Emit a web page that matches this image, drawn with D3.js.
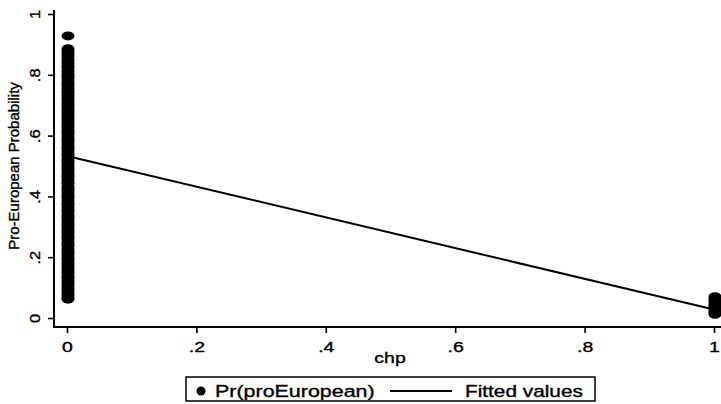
<!DOCTYPE html>
<html>
<head>
<meta charset="utf-8">
<script src="https://cdn.jsdelivr.net/npm/d3@7"></script>
<style>
  body { margin: 0; background: #fff; }
  svg { display: block; background: #fff; }
  text { font-family: "Liberation Sans", Arial, Helvetica, sans-serif; fill: #000; stroke: #000; stroke-width: 0.35px; }
</style>
</head>
<body>
<svg id="chart" width="721" height="404"></svg>
<script>
// Axis ticks and labels (Stata-style leading-dot decimals)
const xTicks = [0, 0.2, 0.4, 0.6, 0.8, 1];
const xTickLabels = ["0", ".2", ".4", ".6", ".8", "1"];
const yTicks = [0, 0.2, 0.4, 0.6, 0.8, 1];
const yTickLabels = ["0", ".2", ".4", ".6", ".8", "1"];

const xTitle = "chp";
const yTitle = "Pro-European Probability";
const legendLabels = ["Pr(proEuropean)", "Fitted values"];

// Predicted pro-European probability for respondents with chp = 0
const probChp0 = [
  0.062, 0.066, 0.074, 0.081, 0.090, 0.097, 0.106, 0.113, 0.121, 0.131,
  0.136, 0.145, 0.151, 0.159, 0.168, 0.174, 0.182, 0.191, 0.196, 0.204,
  0.213, 0.219, 0.227, 0.237, 0.242, 0.250, 0.260, 0.265, 0.273, 0.282,
  0.288, 0.296, 0.305, 0.311, 0.319, 0.328, 0.334, 0.342, 0.351, 0.357,
  0.365, 0.374, 0.380, 0.388, 0.397, 0.403, 0.411, 0.420, 0.426, 0.434,
  0.443, 0.449, 0.457, 0.466, 0.472, 0.480, 0.489, 0.495, 0.503, 0.512,
  0.518, 0.526, 0.535, 0.541, 0.549, 0.558, 0.564, 0.572, 0.581, 0.587,
  0.595, 0.604, 0.610, 0.618, 0.627, 0.633, 0.641, 0.650, 0.656, 0.664,
  0.673, 0.679, 0.687, 0.696, 0.702, 0.710, 0.719, 0.725, 0.733, 0.742,
  0.748, 0.756, 0.765, 0.771, 0.779, 0.788, 0.794, 0.802, 0.811, 0.819,
  0.828, 0.837, 0.845, 0.852, 0.862, 0.869, 0.877, 0.886, 0.928
];
// Predicted probability for respondents with chp = 1
const probChp1 = [0.012, 0.018, 0.022, 0.027, 0.031, 0.036, 0.041, 0.047, 0.055, 0.062, 0.070];

// Linear fit of probability on chp
const fittedChp = [0, 1];
const fittedProb = [0.533, 0.028];

const svg = d3.select("#chart");

const x = d3.scaleLinear().domain([0, 1]).range([67, 714]);
const y = d3.scaleLinear().domain([0, 1]).range([318, 14]);

const plotLeft = 54, plotRight = 721, plotTop = 10, plotBottom = 327;

// Scatter markers
const points = probChp0.map(p => ({ chp: 0, p }))
  .concat(probChp1.map(p => ({ chp: 1, p })));

svg.append("g").selectAll("ellipse")
  .data(points)
  .join("ellipse")
  .attr("cx", d => x(d.chp) + 1)
  .attr("cy", d => y(d.p))
  .attr("rx", 6.5)
  .attr("ry", 4.5)
  .attr("fill", "#000");

// Fitted line
const line = d3.line().x(d => x(d[0])).y(d => y(d[1]));
svg.append("path")
  .datum(fittedChp.map((c, i) => [c, fittedProb[i]]))
  .attr("d", line)
  .attr("fill", "none")
  .attr("stroke", "#000")
  .attr("stroke-width", 2);

// X axis
const xAxis = svg.append("g")
  .attr("transform", `translate(0,${plotBottom})`)
  .call(d3.axisBottom(x).tickValues(xTicks)
    .tickFormat((d, i) => xTickLabels[i]).tickSize(6).tickSizeOuter(0));
xAxis.select(".domain").remove();
xAxis.selectAll(".tick line").attr("stroke", "#000").attr("stroke-width", 1.6);
xAxis.selectAll(".tick text")
  .attr("y", 25).attr("dy", 0)
  .attr("font-size", 15)
  .attr("transform", "scale(1.3,1)");
svg.append("line")
  .attr("x1", plotLeft).attr("x2", plotRight)
  .attr("y1", plotBottom).attr("y2", plotBottom)
  .attr("stroke", "#000").attr("stroke-width", 2);

// Y axis
const yAxis = svg.append("g")
  .attr("transform", `translate(${plotLeft},0)`)
  .call(d3.axisLeft(y).tickValues(yTicks)
    .tickFormat((d, i) => yTickLabels[i]).tickSize(6).tickSizeOuter(0));
yAxis.select(".domain").remove();
yAxis.selectAll(".tick line").attr("stroke", "#000").attr("stroke-width", 1.6);
yAxis.selectAll(".tick text")
  .attr("x", 0).attr("y", -14).attr("dy", 0)
  .attr("text-anchor", "middle")
  .attr("font-size", 15)
  .attr("transform", "rotate(-90) scale(1.1,1)");
svg.append("line")
  .attr("x1", plotLeft).attr("x2", plotLeft)
  .attr("y1", plotTop).attr("y2", plotBottom + 1)
  .attr("stroke", "#000").attr("stroke-width", 2);

// Axis titles
svg.append("g")
  .attr("transform", "translate(390,363) scale(1.3,1)")
  .append("text")
  .attr("text-anchor", "middle")
  .attr("font-size", 15)
  .text(xTitle);

svg.append("text")
  .attr("transform", "translate(19,166) rotate(-90)")
  .attr("text-anchor", "middle")
  .attr("font-size", 15)
  .text(yTitle);

// Legend
const legend = svg.append("g");
legend.append("rect")
  .attr("x", 186).attr("y", 377).attr("width", 409).attr("height", 24)
  .attr("fill", "#fff").attr("stroke", "#000").attr("stroke-width", 1.5);
legend.append("circle")
  .attr("cx", 201).attr("cy", 391).attr("r", 4.5).attr("fill", "#000");
legend.append("g")
  .attr("transform", "translate(215,397) scale(1.3,1)")
  .append("text").attr("font-size", 16.5).text(legendLabels[0]);
legend.append("line")
  .attr("x1", 390).attr("x2", 452).attr("y1", 391).attr("y2", 391)
  .attr("stroke", "#000").attr("stroke-width", 2);
legend.append("g")
  .attr("transform", "translate(465,397) scale(1.3,1)")
  .append("text").attr("font-size", 16).text(legendLabels[1]);
</script>
</body>
</html>
